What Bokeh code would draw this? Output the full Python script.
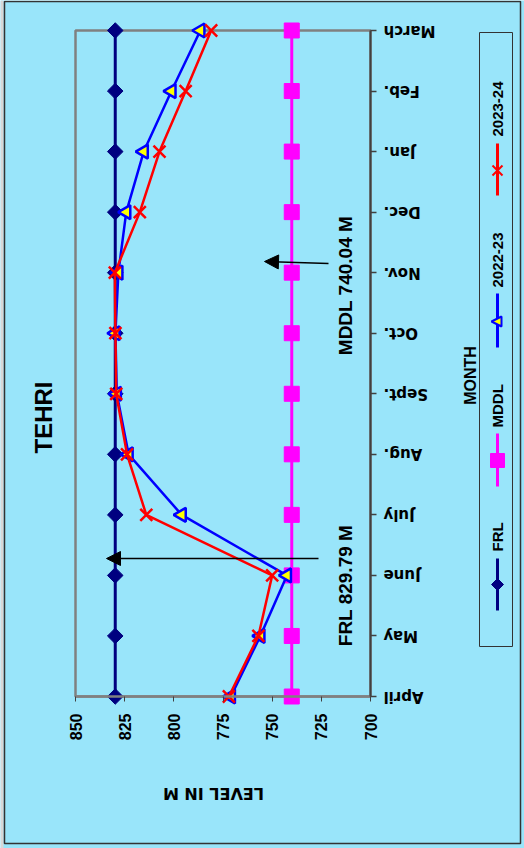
import math
from bokeh.plotting import figure
from bokeh.models import (Range1d, FixedTicker, LabelSet, Label, ColumnDataSource, Arrow,
                          NormalHead, BoxAnnotation, PolyAnnotation)
from bokeh.embed import file_html
from bokeh.resources import INLINE
from bokeh.core.properties import value

# ---------------- data ----------------
months = ["April", "May", "June", "July", "Aug.", "Sept.", "Oct.", "Nov.", "Dec.", "Jan.", "Feb.", "March"]
frl_level = 829.79
mddl_level = 740.04
frl = [frl_level] * 12
mddl = [mddl_level] * 12
lvl_2022_23 = [771.0, 756.0, 742.5, 796.0, 823.0, 829.0, 829.7, 828.2, 824.2, 815.3, 801.2, 786.5]
lvl_2023_24 = [772.0, 757.0, 750.0, 814.0, 823.8, 829.3, 829.7, 830.0, 817.3, 807.3, 794.0, 781.0]
value_ticks = [700, 725, 750, 775, 800, 825, 850]
series_names = ["FRL", "MDDL", "2022-23", "2023-24"]

BG = "#99E5FA"
NAVY = "#000080"
MAGENTA = "#FF00FF"
BLUE = "#0000FF"
RED = "#FF0000"
FONT = "Liberation Sans"

W, H = 524, 848
X0, X1 = 850, 700          # value axis (850 on the left, 700 on the right)
Y0, Y1 = 0, len(months) - 1
FL, FR, FT, FB = 75, 370, 30, 696   # where the chart box sits on the page


def vx(px):   # page x pixel -> value units
    return X0 + (px - FL) * (X1 - X0) / (FR - FL)


def vy(py):   # page y pixel -> month-index units
    return Y0 + (FB - py) * (Y1 - Y0) / (FB - FT)


def poly(xs, ys, **kw):
    p.add_layout(PolyAnnotation(xs=[vx(v) for v in xs], ys=[vy(v) for v in ys],
                                line_alpha=1, fill_alpha=1, **kw))


def text(px, py, s, angle, size, align="center", font=FONT):
    p.add_layout(Label(x=vx(px), y=vy(py), text=s, angle=angle, text_align=align,
                       text_baseline="middle", text_font=font, text_font_style="bold",
                       text_font_size=size, text_color="black"))


idx = list(range(len(months)))
src = ColumnDataSource(dict(y=idx, m=months, frl=frl, mddl=mddl, a=lvl_2022_23, b=lvl_2023_24))

p = figure(width=W, height=H, x_range=Range1d(vx(0), vx(W)), y_range=Range1d(vy(H), vy(0)),
           x_axis_location="below", y_axis_location="right",
           output_backend="svg", toolbar_location=None,
           min_border=0, min_border_left=0, min_border_right=0, min_border_top=0,
           min_border_bottom=0,
           background_fill_color=BG, border_fill_color=BG)
p.xgrid.grid_line_color = None
p.ygrid.grid_line_color = None
p.outline_line_color = None

# chart box (grey)
p.add_layout(BoxAnnotation(left=X0, right=X1, bottom=Y0, top=Y1, fill_color=None, fill_alpha=0,
                           line_color="#808080", line_alpha=1, line_width=2.5, level="underlay"))

# value axis (bottom of the chart box)
xa = p.xaxis[0]
xa.fixed_location = Y0
xa.bounds = (min(value_ticks), max(value_ticks))
xa.ticker = FixedTicker(ticks=value_ticks)
xa.major_label_orientation = math.pi / 2
xa.major_label_text_font = FONT
xa.major_label_text_font_style = "bold"
xa.major_label_text_font_size = "16px"
xa.major_label_text_color = "black"
xa.major_label_standoff = 12
xa.axis_line_color = "#808080"
xa.axis_line_width = 2.5
xa.major_tick_in = 0
xa.major_tick_out = 5
xa.major_tick_line_color = "#404040"
xa.minor_tick_line_color = None

# month axis (right side of the chart box)
ya = p.yaxis[0]
ya.fixed_location = X1
ya.bounds = (Y0, Y1)
ya.ticker = FixedTicker(ticks=idx)
ya.major_label_text_color = None
ya.axis_line_color = "#404040"
ya.axis_line_width = 2
ya.major_tick_in = 0
ya.major_tick_out = 6
ya.major_tick_line_color = "#404040"
ya.major_tick_line_width = 1.5
ya.minor_tick_line_color = None

# series
p.line("frl", "y", source=src, line_color=NAVY, line_width=3)
p.scatter("frl", "y", source=src, marker="square", angle=math.pi / 4, size=11,
          fill_color=NAVY, line_color=NAVY)
p.line("mddl", "y", source=src, line_color=MAGENTA, line_width=3)
p.scatter("mddl", "y", source=src, marker="square", size=15, fill_color=MAGENTA, line_color=MAGENTA)
p.line("a", "y", source=src, line_color=BLUE, line_width=2.5)
p.scatter("a", "y", source=src, marker="triangle", angle=math.pi / 2, size=14,
          fill_color="#FFFF00", line_color=BLUE, line_width=2.5)
p.line("b", "y", source=src, line_color=RED, line_width=2.5)
p.scatter("b", "y", source=src, marker="x", size=17, line_color=RED, line_width=2.5)

# month labels (upside down, as in the reference)
p.add_layout(LabelSet(x=vx(383), y="y", text="m", source=src, angle=math.pi,
                      text_align="right", text_baseline="middle",
                      text_font=value("DejaVu Sans"), text_font_style="bold",
                      text_font_size="15px", text_color="black"))

# FRL / MDDL annotations
p.add_layout(Arrow(end=NormalHead(size=14, fill_color="black", line_color="black"),
                   x_start=vx(318), y_start=vy(558), x_end=vx(106), y_end=vy(558),
                   line_color="black", line_width=1.5))
p.add_layout(Arrow(end=NormalHead(size=14, fill_color="black", line_color="black"),
                   x_start=vx(328), y_start=vy(263), x_end=vx(264), y_end=vy(261),
                   line_color="black", line_width=1.5))
text(345, 585, "FRL %.2f M" % frl_level, math.pi / 2, "19px")
text(345, 285, "MDDL %.2f M" % mddl_level, math.pi / 2, "19px")

# titles
text(43, 417, "TEHRI", math.pi / 2, "24px")
text(470, 375, "MONTH", math.pi / 2, "16px")
text(213, 793, "LEVEL IN M", math.pi, "16px", font="DejaVu Sans")

# outer border
poly([0, 3, 3, 0], [0, 0, H, H], fill_color="#D8D8D8", line_color=None)
poly([4, 520, 520, 4], [1, 1, 843, 843], fill_color=None, line_color="#333333", line_width=1.5)

# legend (drawn by hand, rotated like the reference)
poly([479, 512, 512, 479], [32, 32, 646, 646], fill_color=None, line_color="#333333", line_width=1)

LX = 497
legend_rows = [  # (name, colour, line bottom, line top, marker y, label start)  page pixels
    (series_names[0], NAVY, 610, 558, 584, 551),
    (series_names[1], MAGENTA, 486, 433, 460, 427),
    (series_names[2], BLUE, 347, 293, 321, 287),
    (series_names[3], RED, 195, 143, 170, 136),
]
for name, col, y0, y1, ym, yl in legend_rows:
    p.add_layout(Arrow(end=None, x_start=vx(LX), y_start=vy(y0), x_end=vx(LX), y_end=vy(y1),
                       line_color=col, line_width=3))
    text(LX, yl, name, math.pi / 2, "15px", align="left")
    if name == "FRL":
        poly([LX - 6, LX, LX + 6, LX], [ym, ym - 6, ym, ym + 6], fill_color=col, line_color=col)
    elif name == "MDDL":
        poly([LX - 7, LX + 7, LX + 7, LX - 7], [ym - 7, ym - 7, ym + 7, ym + 7],
             fill_color=col, line_color=col)
    elif name == "2022-23":
        poly([LX - 6, LX + 4, LX + 4], [ym, ym - 5, ym + 5], fill_color="#FFFF00",
             line_color=col, line_width=2)
    else:
        for dx in (-5, 5):
            p.add_layout(Arrow(end=None, x_start=vx(LX - dx), y_start=vy(ym - 5),
                               x_end=vx(LX + dx), y_end=vy(ym + 5),
                               line_color=col, line_width=2))

open("out.html", "w").write(file_html(p, INLINE))
